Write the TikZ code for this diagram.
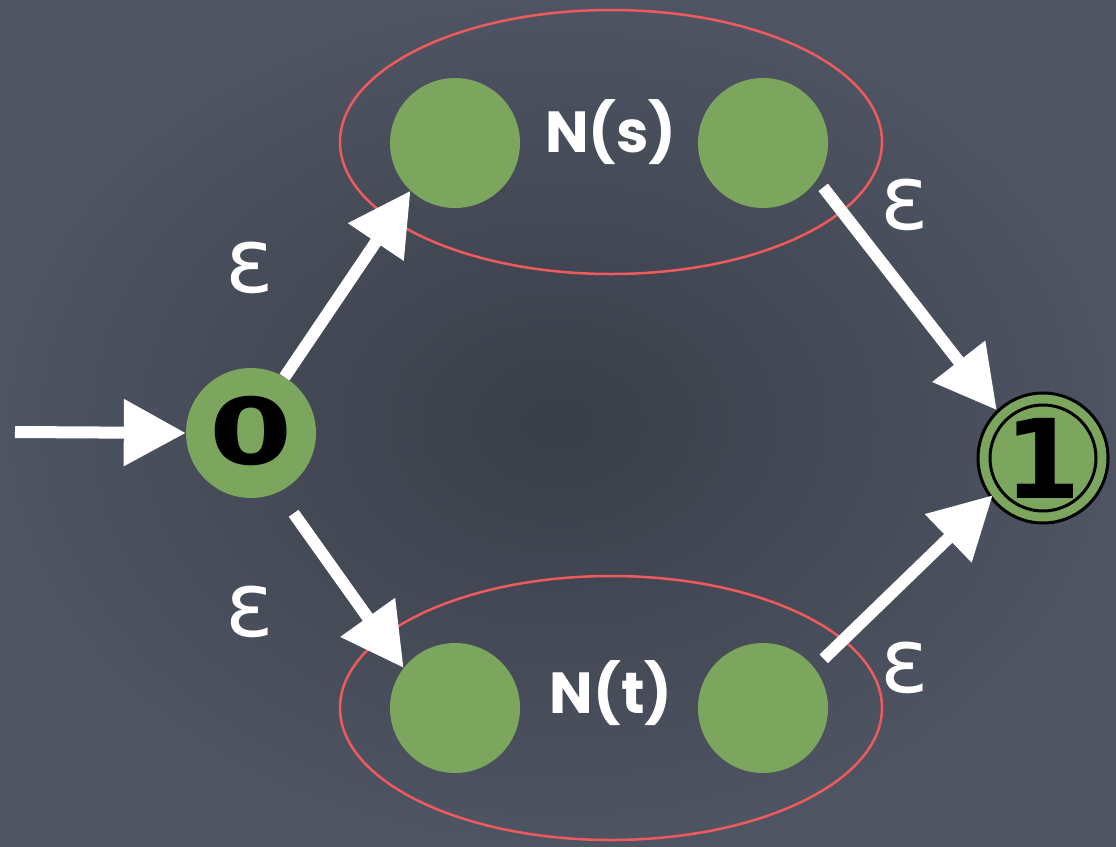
\documentclass[tikz,border=0pt]{standalone}
\usepackage{fontspec}
\setmainfont{Poppins}
\newfontfamily\dejavu{DejaVu Sans}
\usetikzlibrary{arrows.meta,shapes.geometric}
\definecolor{bgin}{HTML}{3A3E49}
\definecolor{bgout}{HTML}{4E5462}
\definecolor{chalkgreen}{HTML}{7CA55E}
\definecolor{chalkred}{HTML}{F05A5C}
\begin{document}
\begin{tikzpicture}[x=1pt,y=-1pt,
  state/.style={circle, fill=chalkgreen, minimum size=130pt, inner sep=0pt},
  group/.style={ellipse, draw=chalkred, line width=2.5pt, minimum width=542pt, minimum height=264pt, inner sep=0pt},
  chalk/.style={draw=white, line width=12pt, -{Triangle[length=62pt,width=64pt]}},
  eps/.style={text=white, font=\dejavu\fontsize{90}{100}\selectfont, inner sep=0pt},
  lbl/.style={text=white, font=\bfseries\fontsize{58}{70}\selectfont, inner sep=0pt, anchor=base},
  ring/.style={draw=black, line width=3pt}]
  % background
  \useasboundingbox (0,0) rectangle (1116,846);
  \shade[inner color=bgin, outer color=bgout] (0,0) rectangle (1116,846);
  % groups
  \node[group] (gs) at (611,142) {};
  \node[group] (gt) at (611,708) {};
  % states
  \node[state, font=\dejavu\bfseries\fontsize{92}{94}\selectfont] (s0) at (251,433) {\raisebox{6pt}{\scalebox{1.3}[1]{0}}};
  \node[state, ring, font=\dejavu\bfseries\fontsize{110}{112}\selectfont] (s1) at (1043,458) {1};
  \draw[ring] (s1.center) circle[radius=53pt];
  \node[state] (a) at (455,143) {};
  \node[state] (b) at (763,143) {};
  \node[state] (c) at (455,708) {};
  \node[state] (d) at (763,708) {};
  % group labels
  \node[lbl] (ns) at (611,152) {N(s)};
  \node[lbl] (nt) at (611,713) {N(t)};
  % epsilon labels
  \node[eps] (e1) at (250,268) {ε};
  \node[eps] (e2) at (905,205) {ε};
  \node[eps] (e3) at (250,612) {ε};
  \node[eps] (e4) at (905,668) {ε};
  % arrows
  \coordinate (in) at (15,432);
  \draw[chalk] (in) -- (s0.180);
  \draw[chalk] (s0.59) -- (a.227);
  \draw[chalk, shorten <=10pt] (b.-34) -- (s1.134);
  \draw[chalk, shorten <=26pt] (s0.-65) -- (c.142);
  \draw[chalk, shorten <=13pt, shorten >=-4pt] (d.38) -- (s1.217);
\end{tikzpicture}
\end{document}
